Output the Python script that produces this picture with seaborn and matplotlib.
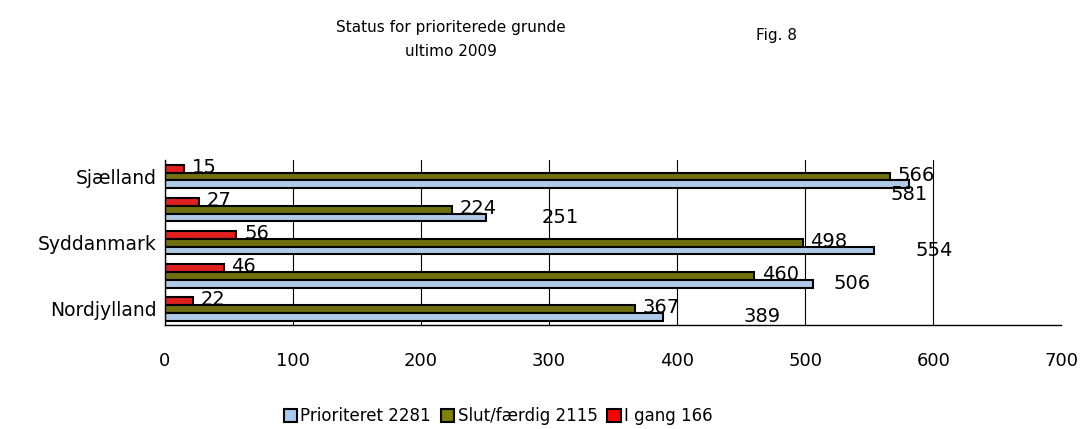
import matplotlib
matplotlib.use("Agg")
import matplotlib.pyplot as plt
import seaborn as sns
import pandas as pd
from matplotlib.patches import Patch

# regions, top to bottom as drawn
regions = ["Sjælland", "Hovedstaden", "Syddanmark", "Midtjylland", "Nordjylland"]
prioriteret = [581, 251, 554, 506, 389]
slut_faerdig = [566, 224, 498, 460, 367]
i_gang = [15, 27, 56, 46, 22]

series_names = ["Prioriteret", "Slut/færdig", "I gang"]
series_totals = [2281, 2115, 166]
colors = {"Prioriteret": "#A6CAF0", "Slut/færdig": "#808000", "I gang": "#FF0000"}

# where Excel dropped the labels of the blue bars (extra x offset, data units)
blue_label_shift = [0, 58, 47, 31, 77]

df = pd.DataFrame({
    "region": regions * 3,
    "serie": ["Prioriteret"] * 5 + ["Slut/færdig"] * 5 + ["I gang"] * 5,
    "antal": prioriteret + slut_faerdig + i_gang,
})

sns.set_theme(style="white")
plt.rcParams["font.family"] = ["DejaVu Sans"]
plt.rcParams["text.color"] = "black"
plt.rcParams["xtick.color"] = "black"
plt.rcParams["ytick.color"] = "black"
plt.rcParams["axes.labelcolor"] = "black"

fig = plt.figure(figsize=(10.83, 4.29), dpi=100)
ax = fig.add_axes([0.152, 0.242, 0.828, 0.385])

hue_order = ["I gang", "Slut/færdig", "Prioriteret"]
sns.barplot(data=df, y="region", x="antal", hue="serie", order=regions,
            hue_order=hue_order, palette=colors, orient="h", width=0.72,
            edgecolor="black", linewidth=1.5, legend=False, ax=ax)

# data labels
for container, name in zip(ax.containers, hue_order):
    for i, bar in enumerate(container):
        val = bar.get_width()
        yc = bar.get_y() + bar.get_height() / 2
        if name == "Prioriteret":
            dy = 0.3 if i == 0 else 0
            ax.text(val + blue_label_shift[i], yc + dy, f"{int(val)}",
                    ha="center", va="center", fontsize=14)
        else:
            ax.text(val + 6, yc - 0.03, f"{int(val)}", ha="left", va="center",
                    fontsize=14)

ax.set_xlim(0, 700)
ax.set_ylim(len(regions) - 0.5, -0.5)
ax.set_xticks(range(0, 701, 100))
ax.tick_params(axis="x", labelsize=13, direction="out", length=5, width=1,
               color="black", pad=14)

# only every other region is labelled, ticks sit between groups
ax.set_yticks(range(len(regions)))
ax.set_yticklabels([r if i % 2 == 0 else "" for i, r in enumerate(regions)],
                   fontsize=13.5)
ax.tick_params(axis="y", which="major", length=0, pad=6)
ax.set_yticks([i - 0.5 for i in range(len(regions) + 1)], minor=True)
ax.tick_params(axis="y", which="minor", length=7, width=1, color="black",
               direction="out")

ax.set_xlabel("")
ax.set_ylabel("")
ax.grid(axis="x", color="black", linewidth=0.8)
ax.xaxis.get_gridlines()[-1].set_visible(False)
ax.set_axisbelow(True)
for s in ["top", "right"]:
    ax.spines[s].set_visible(False)
for s in ["left", "bottom"]:
    ax.spines[s].set_color("black")
    ax.spines[s].set_linewidth(1)

handles = [Patch(facecolor=colors[n], edgecolor="black", linewidth=1.5)
           for n in series_names]
labels = [f"{n} {t}" for n, t in zip(series_names, series_totals)]
fig.legend(handles, labels, loc="center", bbox_to_anchor=(0.46, 0.03), ncol=3,
           frameon=False, fontsize=12, handlelength=0.8, handleheight=0.8,
           handletextpad=0.2, columnspacing=0.6)

fig.text(0.416, 0.935, "Status for prioriterede grunde", ha="center",
         va="center", fontsize=11)
fig.text(0.416, 0.88, "ultimo 2009", ha="center", va="center", fontsize=11)
fig.text(0.717, 0.918, "Fig. 8", ha="center", va="center", fontsize=11)

fig.savefig("out.png", dpi=100)
